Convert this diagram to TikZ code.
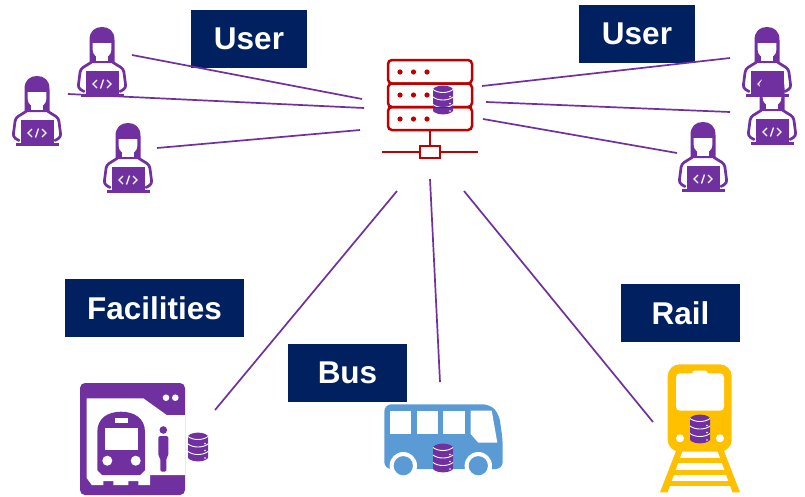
\documentclass[tikz,border=0pt]{standalone}
\usepackage{fontspec}
\setmainfont{Liberation Sans}
\definecolor{navy}{HTML}{002060}
\definecolor{purp}{HTML}{7030A0}
\definecolor{srvred}{HTML}{C00000}
\definecolor{busblue}{HTML}{5B9BD5}
\definecolor{railgold}{HTML}{FFC000}
\tikzset{
  labelbox/.style={fill=navy, text=white, font=\bfseries\fontsize{31.5}{36}\selectfont, minimum height=58, inner sep=0pt},
  link/.style={purp, line width=1.7},
  userpic/.pic={
    \draw[purp, line width=2.7, line cap=round, line join=round, rounded corners=3] (-11,35.5) -- (-21.5,42) -- (-24,61) -- (-18,64.5);
    \draw[purp, line width=2.7, line cap=round, line join=round, rounded corners=3] (11,35.5) -- (21.5,42) -- (24,61) -- (18,64.5);
    \fill[purp] (-12.5,36) -- (-12.5,13) .. controls (-12.5,4) and (-7,0) .. (0,0) .. controls (7,0) and (12.5,4) .. (12.5,13) -- (12.5,36) -- cycle;
    \fill[white] (-9.3,16) -- (9.3,16) -- (9.3,23) .. controls (9.3,28) and (5,31) .. (0,31) .. controls (-5,31) and (-9.3,28) .. (-9.3,23) -- cycle;
    \fill[white] (-6,29) rectangle (6,34);
    \fill[purp] (-16.5,44) rectangle (16.5,67);
    \fill[purp] (-21.5,67) rectangle (21.5,70);
    \draw[white, line width=1.3] (-5,53) -- (-9,57) -- (-5,61);
    \draw[white, line width=1.3] (5,53) -- (9,57) -- (5,61);
    \draw[white, line width=1.3] (1.5,52.5) -- (-1.5,61.5);
  },
  dbpic/.pic={
    \fill[purp] (-10,-11) -- (-10,11) .. controls (-6,15.5) and (6,15.5) .. (10,11) -- (10,-11) .. controls (6,-15.5) and (-6,-15.5) .. (-10,-11) -- cycle;
    \draw[white, line width=.9] (-10,-10.5) .. controls (-5,-6.5) and (5,-6.5) .. (10,-10.5);
    \draw[white, line width=.9] (-10,-3) .. controls (-5,1) and (5,1) .. (10,-3);
    \draw[white, line width=.9] (-10,4.5) .. controls (-5,8.5) and (5,8.5) .. (10,4.5);
    \fill[white] (7,-3.5) circle (.8);
    \fill[white] (7,3.5) circle (.8);
    \fill[white] (7,11) circle (.8);
  },
}

\begin{document}
\begin{tikzpicture}[x=1pt, y=-1pt]
\useasboundingbox (0,0) rectangle (805,496);

\node[labelbox, minimum width=116] (userleft) at (249,39) {User};
\node[labelbox, minimum width=116] (userright) at (637,34) {User};
\node[labelbox, minimum width=179] (facilities) at (154.5,308) {Facilities};
\node[labelbox, minimum width=119] (bus) at (347.5,373) {Bus};
\node[labelbox, minimum width=119] (rail) at (680.5,313) {Rail};

% users
\pic at (102,27) {userpic};
\pic at (37,76) {userpic};
\pic at (128,123) {userpic};
\pic at (767,27) {userpic};
\pic at (772,75) {userpic};
\fill[purp] (751,90) rectangle (783,94);
\fill[purp] (745.5,94) rectangle (788.5,97);
\pic at (703,122) {userpic};

% server
\draw[srvred, line width=2.5, rounded corners=4] (388,60) rectangle (472,83.5);
\draw[srvred, line width=2.5, rounded corners=4] (388,83.5) rectangle (472,107);
\draw[srvred, line width=2.5, rounded corners=4] (388,107) rectangle (472,130);
\foreach \rowy in {72,95,119} {
  \fill[srvred] (400,\rowy) circle (2.6);
  \fill[srvred] (413.5,\rowy) circle (2.6);
  \fill[srvred] (427,\rowy) circle (2.6);
}
\draw[srvred, line width=2.2] (430,130) -- (430,146);
\draw[srvred, line width=2.2] (382,152) -- (478,152);
\node[draw=srvred, fill=white, line width=2.2, minimum width=20, minimum height=12, inner sep=0pt] (netbox) at (430,152) {};
\pic at (443,100) {dbpic};
\draw[srvred, line width=.9] (433,107) -- (453,107);

% facilities
\fill[purp, rounded corners=5] (80,383) rectangle (185,495);
\fill[white] (86.7,398.3) -- (143.3,398.3) -- (166.7,415) -- (185,415) -- (185,475) -- (150,475) -- (150,485) -- (138.3,485) -- (138.3,481) -- (128.3,481) -- (128.3,485) -- (113.3,485) -- (113.3,481) -- (103.3,481) -- (103.3,485) -- (91.7,485) -- (86.7,478) -- cycle;
\fill[white] (166,397.7) circle (3.3);
\fill[white] (175.3,397.7) circle (3.3);
\fill[purp] (97.3,470) -- (97.3,432) .. controls (97.3,418) and (108,411.7) .. (121,411.7) .. controls (134,411.7) and (145,418) .. (145,432) -- (145,470) -- (140,475) -- (102,475) -- cycle;
\fill[white] (105,428.3) rectangle (138.3,450);
\fill[white] (115,417.7) rectangle (128.3,423.3);
\fill[white] (107.3,460.7) circle (5);
\fill[white] (135.7,460.7) circle (5);
\fill[purp] (163.3,430) circle (3.8);
\fill[purp, rounded corners=1.5] (158.3,436) -- (168.3,436) -- (168.3,456) -- (166.3,458) -- (166.3,471.7) -- (160.3,471.7) -- (160.3,458) -- (158.3,456) -- cycle;
\pic at (198,447) {dbpic};

% bus
\fill[busblue, rounded corners=7] (384.3,404.3) -- (490,404.3) -- (499,414) -- (502.7,440) -- (502.7,469) -- (384.3,469) -- cycle;
\fill[white] (390,410.7) rectangle (411,434);
\fill[white] (416.7,410.7) rectangle (438.3,434);
\fill[white] (443.3,410.7) rectangle (465,434);
\fill[white] (470.7,410.7) -- (491.7,410.7) -- (497.3,442.7) -- (478.3,442.7) -- (470.7,434) -- cycle;
\fill[white] (403.3,465.7) circle (13.7);
\fill[white] (478.3,465.7) circle (13.7);
\fill[busblue] (403.3,465.7) circle (9.6);
\fill[busblue] (478.3,465.7) circle (9.6);
\pic at (443,458) {dbpic};

% rail
\fill[railgold] (676,451) -- (682.5,451) -- (667.5,492.3) -- (660,492.3) -- cycle;
\fill[railgold] (724,451) -- (717.5,451) -- (732.5,492.3) -- (740,492.3) -- cycle;
\fill[railgold] (678,457.7) rectangle (722,463.3);
\fill[railgold] (673,469.5) rectangle (727,475);
\fill[railgold] (668,481) rectangle (732,486);
\fill[railgold, rounded corners=12] (667.7,364.3) rectangle (731.7,451.7);
\fill[white, rounded corners=4] (676,373.3) rectangle (724,410.7);
\fill[white, rounded corners=1.5] (692.7,370.5) rectangle (707.3,376);
\fill[white] (680,438.3) circle (4);
\fill[white] (720,438.3) circle (4);
\pic at (700,429) {dbpic};

% links
\coordinate (userA) at (132,55);
\coordinate (userB) at (68,94);
\coordinate (userC) at (157,148);
\coordinate (userD) at (730,58);
\coordinate (userE) at (730,112);
\coordinate (userF) at (677,153);
\coordinate (hubA) at (362,99);
\coordinate (hubB) at (364,108);
\coordinate (hubC) at (360,130);
\coordinate (hubD) at (482,86);
\coordinate (hubE) at (486,102);
\coordinate (hubF) at (483,119);
\coordinate (hubG) at (397,191);
\coordinate (hubH) at (430,179);
\coordinate (hubI) at (464,191);
\coordinate (facilityend) at (215,410);
\coordinate (busend) at (440,382);
\coordinate (railend) at (653,422);
\draw[link] (userA) -- (hubA);
\draw[link] (userB) -- (hubB);
\draw[link] (userC) -- (hubC);
\draw[link] (hubD) -- (userD);
\draw[link] (hubE) -- (userE);
\draw[link] (hubF) -- (userF);
\draw[link] (hubG) -- (facilityend);
\draw[link] (hubH) -- (busend);
\draw[link] (hubI) -- (railend);
\end{tikzpicture}
\end{document}
